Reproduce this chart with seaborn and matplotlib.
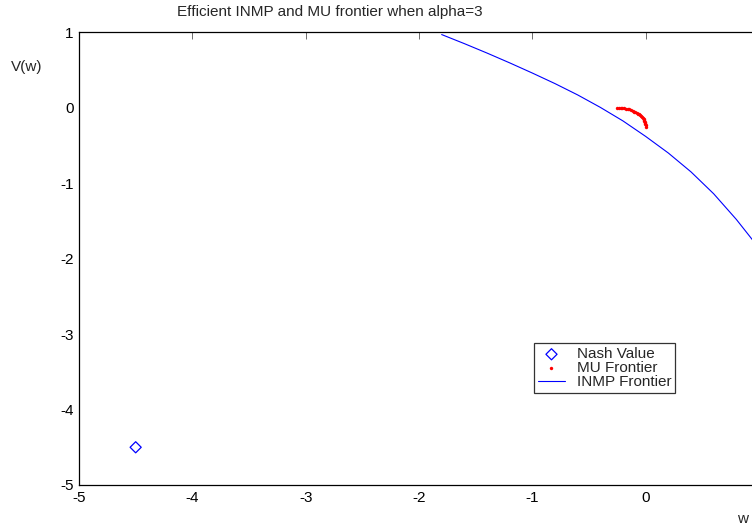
import numpy as np
import pandas as pd
import matplotlib
matplotlib.use("Agg")
import matplotlib.pyplot as plt
import seaborn as sns

# Nash value point
nash_w = [-4.5]
nash_v = [-4.5]

# MU frontier (red dots)
mu_w = [-0.25, -0.235, -0.22, -0.205, -0.19, -0.175, -0.16, -0.145, -0.13, -0.115,
        -0.10, -0.09, -0.08, -0.07, -0.06, -0.05, -0.04, -0.032, -0.025, -0.019,
        -0.015, -0.011, -0.008, -0.005, -0.003, -0.001, 0.0]
mu_v = [0.0, -0.001, -0.002, -0.004, -0.007, -0.011, -0.017, -0.023, -0.030, -0.039,
        -0.050, -0.058, -0.067, -0.077, -0.088, -0.101, -0.115, -0.128, -0.141, -0.153,
        -0.165, -0.177, -0.190, -0.203, -0.215, -0.232, -0.25]

# INMP frontier (blue line)
inmp_w = [-1.80, -1.60, -1.40, -1.20, -1.00, -0.80, -0.60, -0.40, -0.20,
          0.00, 0.20, 0.40, 0.60, 0.80, 1.00]
inmp_v = [0.97, 0.85, 0.725, 0.595, 0.46, 0.32, 0.17, 0.005, -0.175,
          -0.38, -0.60, -0.85, -1.14, -1.48, -1.86]

xticks = [-5, -4, -3, -2, -1, 0, 1]
xticklabels = ["-5", "-4", "-3", "-2", "-1", "0", ""]
yticks = [-5, -4, -3, -2, -1, 0, 1]
yticklabels = ["-5", "-4", "-3", "-2", "-1", "0", "1"]

sns.set_style("white")
plt.rcParams["font.family"] = ["Liberation Sans", "DejaVu Sans"]
plt.rcParams["font.size"] = 11

fig = plt.figure(figsize=(7.52, 5.32), dpi=100)
ax = fig.add_axes([79 / 752, 1 - 485 / 532, 680 / 752, 452.7 / 532])

sns.scatterplot(x=nash_w, y=nash_v, marker="D", s=32, facecolors="none",
                edgecolor="blue", linewidth=0.9, ax=ax, label="Nash Value", zorder=3)
sns.scatterplot(x=mu_w, y=mu_v, marker="o", s=6, color="red", linewidth=0,
                ax=ax, label="MU Frontier", zorder=3)
sns.lineplot(x=inmp_w, y=inmp_v, color="blue", linewidth=0.8, ax=ax,
             label="INMP Frontier", sort=False)

ax.set_xlim(-5, 1)
ax.set_ylim(-5, 1)
ax.set_xticks(xticks)
ax.set_xticklabels(xticklabels)
ax.set_yticks(yticks)
ax.set_yticklabels(yticklabels)
ax.set_xlabel("")
ax.set_ylabel("")
ax.tick_params(direction="in", length=5, width=0.6, color="#555555",
               top=True, right=True, labelsize=11, labelcolor="black", pad=4)
for s in ax.spines.values():
    s.set_color("black")
    s.set_linewidth(0.9)
    s.set_visible(True)

leg = ax.legend(loc="lower left", bbox_to_anchor=(0.669, 0.203), frameon=True,
                fancybox=False, shadow=False, fontsize=11, borderpad=0.25,
                labelspacing=0.0, handlelength=1.8, handletextpad=0.75,
                borderaxespad=0)
leg.get_frame().set_edgecolor("black")
leg.get_frame().set_linewidth(0.9)

fig.text(330 / 752, 1 - 12 / 532, "Efficient INMP and MU frontier when alpha=3",
         ha="center", va="center", fontsize=11)
fig.text(27 / 752, 1 - 67 / 532, "V(w)", ha="center", va="center", fontsize=11)
fig.text(743 / 752, 1 - 519 / 532, "w", ha="center", va="center", fontsize=11)

fig.savefig("out.png", dpi=100)
